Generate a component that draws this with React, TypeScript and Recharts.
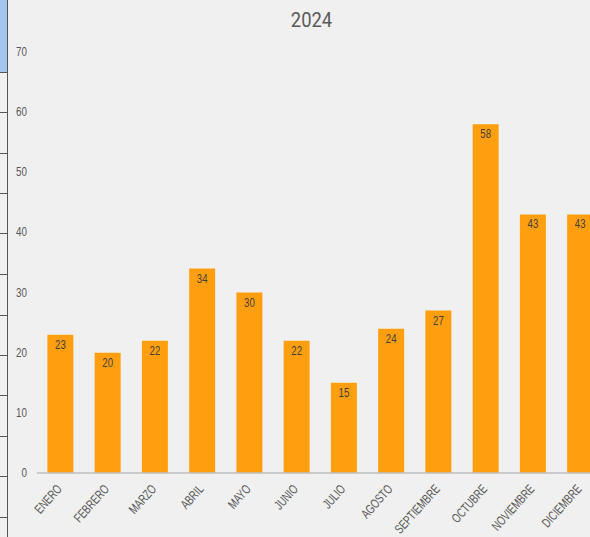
import { BarChart, Bar, XAxis, YAxis, LabelList } from 'recharts';

const months = ['ENERO', 'FEBRERO', 'MARZO', 'ABRIL', 'MAYO', 'JUNIO', 'JULIO', 'AGOSTO', 'SEPTIEMBRE', 'OCTUBRE', 'NOVIEMBRE', 'DICIEMBRE'];
const values = [23, 20, 22, 34, 30, 22, 15, 24, 27, 58, 43, 43];
const yTicks = [0, 10, 20, 30, 40, 50, 60, 70];

const data = months.map((name, i) => ({ name, value: values[i] }));

const font = '"Liberation Sans", Arial, sans-serif';

// the original uses a condensed face, so squeeze the text horizontally
const MonthTick = (props: any) => {
	const { x, y, payload } = props;
	return (
		<g transform={`translate(${x - 1},${y + 14}) rotate(-48) scale(0.72,1)`}>
			<text textAnchor="end" fontSize={13} fill="#595959" fontFamily={font} dy={4}>
				{payload.value}
			</text>
		</g>
	);
};

const ValueTick = (props: any) => {
	const { x, y, payload } = props;
	return (
		<g transform={`translate(${x},${y}) scale(0.82,1)`}>
			<text textAnchor="end" fontSize={12} fill="#595959" fontFamily={font} dy={4}>
				{payload.value}
			</text>
		</g>
	);
};

const BarValue = (props: any) => {
	const { x, y, width, value } = props;
	return (
		<g transform={`translate(${x + width / 2},${y + 14}) scale(0.8,1)`}>
			<text textAnchor="middle" fontSize={12} fill="#404040" fontFamily={font}>
				{value}
			</text>
		</g>
	);
};

// sheet row lines on the left edge
const rowLines = [72, 112, 153, 193, 233, 274, 315, 355, 395, 436, 476, 517];

export default function App() {
	return (
		<div style={{ position: 'absolute', left: 0, top: 0, width: 590, height: 537, overflow: 'hidden', background: '#f0f0f0' }}>
			<div style={{ position: 'absolute', left: 0, top: 0, width: 7, height: 72, background: '#a3c5ee' }} />
			<div style={{ position: 'absolute', left: 7, top: 0, width: 1, height: 537, background: '#555' }} />
			{rowLines.map((t) => (
				<div key={t} style={{ position: 'absolute', left: 0, top: t, width: 7, height: 1, background: '#555' }} />
			))}
			<div style={{ position: 'absolute', left: 0, top: 8, width: 622, textAlign: 'center', fontFamily: 'Roboto, sans-serif', fontSize: 20, color: '#595959' }}>
				<span style={{ display: 'inline-block', transform: 'scaleX(0.92)' }}>2024</span>
			</div>
			<div style={{ position: 'absolute', left: 0, top: 0 }}>
				<BarChart width={620} height={537} data={data} margin={{ top: 52, right: 16, bottom: 0, left: 0 }} barCategoryGap="22%">
					<XAxis
						dataKey="name"
						interval={0}
						height={64}
						tickLine={false}
						tickSize={0}
						tickMargin={0}
						axisLine={{ stroke: '#bfbfbf', strokeWidth: 1.5 }}
						tick={<MonthTick />}
					/>
					<YAxis
						width={37}
						domain={[0, 70]}
						ticks={yTicks}
						axisLine={false}
						tickLine={false}
						tickSize={0}
						tickMargin={10}
						tick={<ValueTick />}
					/>
					<Bar dataKey="value" fill="#ff9f0f" isAnimationActive={false}>
						<LabelList dataKey="value" content={<BarValue />} />
					</Bar>
				</BarChart>
			</div>
		</div>
	);
}
